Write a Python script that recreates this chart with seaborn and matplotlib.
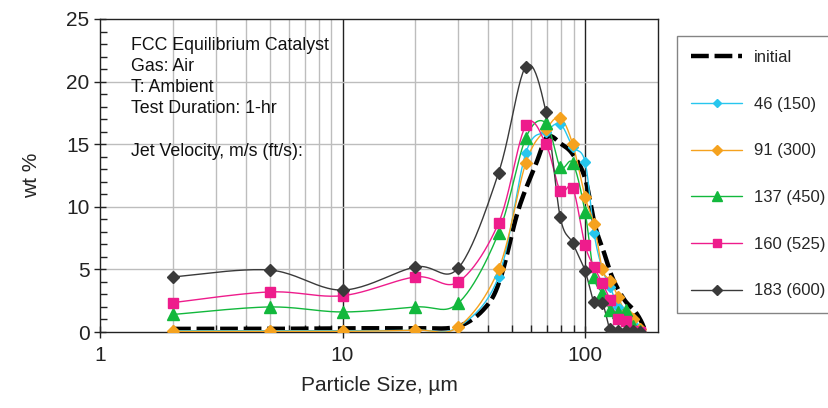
import numpy as np
import pandas as pd
import seaborn as sns
import matplotlib.pyplot as plt
from matplotlib.ticker import FixedLocator, NullFormatter, MultipleLocator

# particle size bins (um)
sizes = [2, 5, 10, 20, 30, 44, 57, 69, 79, 89, 100, 109, 118, 127, 137, 147, 157, 168]

v46 = [0.1, 0.1, 0.1, 0.15, 0.4, 4.4, 14.3, 16.0, 16.6, 14.8, 13.6, 7.9, 5.0, 3.6, 2.0, 1.3, 0.6, 0.1]
v91 = [0.05, 0.05, 0.05, 0.15, 0.4, 5.0, 13.5, 16.2, 17.1, 15.0, 10.8, 8.6, 5.0, 4.1, 2.8, 1.5, 1.0, 0.2]
v137 = [1.4, 2.0, 1.6, 2.0, 2.3, 7.9, 15.5, 16.7, 13.2, 13.5, 9.6, 4.4, 3.1, 1.75, 1.6, 1.75, 0.5, 0.1]
v160 = [2.35, 3.2, 2.9, 4.4, 4.0, 8.7, 16.5, 15.0, 11.3, 11.5, 6.95, 5.2, 3.9, 2.55, 1.0, 0.9, 0.1, 0.0]
v183 = [4.4, 4.95, 3.35, 5.2, 5.1, 12.7, 21.2, 17.6, 9.2, 7.1, 4.9, 2.4, 2.3, 0.2, 0.1, 0.05, 0.05, 0.0]

init_sizes = [2, 5, 10, 20, 30, 39, 45, 53, 63, 70, 80, 89, 100, 110, 120, 130, 145, 160, 170, 178]
init_vals = [0.25, 0.25, 0.3, 0.3, 0.45, 2.0, 4.4, 9.7, 13.5, 15.6, 15.0, 14.2, 12.3, 8.5, 6.3, 4.3, 2.6, 1.7, 0.9, 0.0]

labels = ['46 (150)', '91 (300)', '137 (450)', '160 (525)', '183 (600)']
colors = ['#27C6EE', '#F5A21E', '#12B83C', '#EE1C8C', '#3A3A3A']
markers = ['D', 'D', '^', 's', 'D']
msizes = [5, 6, 8, 7, 6]


def smooth(x, y, n=24):
    # Catmull-Rom through the points in log-x space (Excel style smoothed line)
    lx = np.log10(np.asarray(x, float))
    y = np.asarray(y, float)
    px, py = [], []
    for i in range(len(lx) - 1):
        i0 = max(i - 1, 0)
        i3 = min(i + 2, len(lx) - 1)
        t = np.linspace(0, 1, n, endpoint=False)
        for arr, out in ((lx, px), (y, py)):
            p0, p1, p2, p3 = arr[i0], arr[i], arr[i + 1], arr[i3]
            out.extend(0.5 * ((2 * p1) + (-p0 + p2) * t
                              + (2 * p0 - 5 * p1 + 4 * p2 - p3) * t ** 2
                              + (-p0 + 3 * p1 - 3 * p2 + p3) * t ** 3))
    px.append(lx[-1])
    py.append(y[-1])
    return 10 ** np.array(px), np.array(py)


sns.set_theme(style='white')
plt.rcParams['font.family'] = ['Liberation Sans', 'DejaVu Sans']

fig = plt.figure(figsize=(8.29, 4.08), dpi=100)
ax = fig.add_axes([100 / 829, 76 / 408, 558 / 829, 313 / 408])

ax.set_xscale('log')
ax.set_xlim(1, 200)
ax.set_ylim(0, 25)

# grid
minor_x = [m * d for d in (1, 10) for m in range(2, 10)]
for xv in minor_x:
    ax.axvline(xv, color='#BDBDBD', lw=1, zorder=0)
for xv in (10, 100):
    ax.axvline(xv, color='#222222', lw=1, zorder=0)
for yv in (5, 10, 15, 20):
    ax.axhline(yv, color='#BDBDBD', lw=1, zorder=0)

# initial distribution
ix, iy = smooth(init_sizes, init_vals)
sns.lineplot(x=ix, y=iy, ax=ax, color='black', lw=3.2, sort=False,
             label='initial', zorder=3)
ax.lines[-1].set_dashes([4, 1.3])

for vals, lab, c, m, ms in zip([v46, v91, v137, v160, v183], labels, colors, markers, msizes):
    sx, sy = smooth(sizes, vals)
    sns.lineplot(x=sx, y=sy, ax=ax, color=c, lw=1, sort=False, zorder=4, legend=False)
    ax.plot(sizes, vals, linestyle='none', marker=m, ms=ms, color=c,
            markeredgecolor=c, zorder=5)
    ax.plot([], [], color=c, lw=1, marker=m, ms=ms - 1, label=lab)

ax.xaxis.set_major_locator(FixedLocator([1, 10, 100]))
ax.set_xticklabels(['1', '10', '100'])
ax.xaxis.set_minor_locator(FixedLocator(minor_x))
ax.xaxis.set_minor_formatter(NullFormatter())
ax.yaxis.set_major_locator(MultipleLocator(5))
ax.yaxis.set_minor_locator(MultipleLocator(1))
ax.tick_params(axis='both', which='major', direction='inout', length=8, width=1,
               labelsize=15, colors='#222222', bottom=True, left=True)
ax.tick_params(axis='both', which='minor', direction='in', length=5, width=1,
               colors='#222222', bottom=True, left=True)
ax.tick_params(axis='x', which='major', pad=6)

for sp in ax.spines.values():
    sp.set_color('#222222')
    sp.set_linewidth(1)

ax.set_xlabel('Particle Size, µm', fontsize=15, labelpad=8)
ax.set_ylabel('wt %', fontsize=15, labelpad=18)

ax.text(131 / 829, 1 - 37 / 408,
        'FCC Equilibrium Catalyst\nGas: Air\nT: Ambient\nTest Duration: 1-hr\n\nJet Velocity, m/s (ft/s):',
        transform=fig.transFigure, fontsize=12.8, va='top', ha='left',
        linespacing=1.32, color='#111111')

handles, labs = ax.get_legend_handles_labels()
if ax.legend_:
    ax.legend_.remove()
fig.legend(handles, labs, loc='upper left', bbox_to_anchor=(677 / 829, 1 - 36 / 408),
           fontsize=12, frameon=True, fancybox=False, edgecolor='#666666',
           handlelength=3.05, labelspacing=1.9, borderpad=0.85, handletextpad=0.7,
           borderaxespad=0)

fig.savefig('out.png', dpi=100)
